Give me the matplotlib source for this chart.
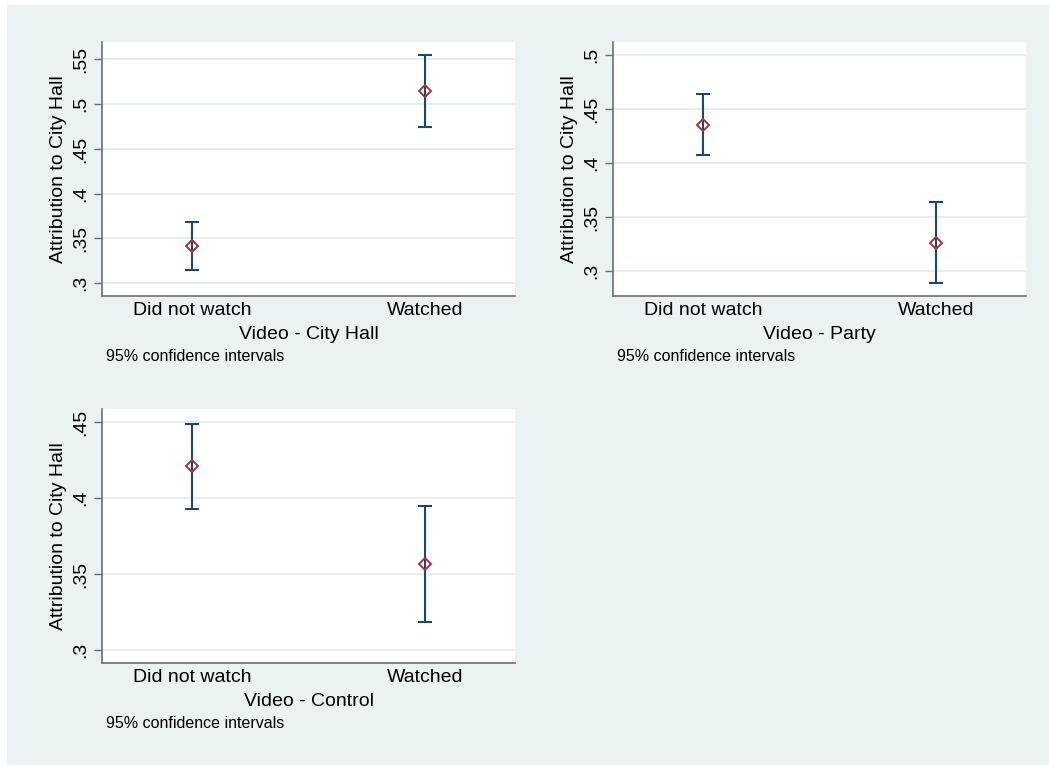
import numpy as np
import matplotlib
matplotlib.use("Agg")
import matplotlib.pyplot as plt
from matplotlib.patches import Rectangle

plt.rcParams['font.family'] = ['Liberation Sans', 'DejaVu Sans']

categories = ["Did not watch", "Watched"]
panel_xlabels = ["Video - City Hall", "Video - Party", "Video - Control"]
ylabel = "Attribution to City Hall"
note = "95% confidence intervals"

# means and 95% CI bounds, per panel (did not watch, watched)
means = [[0.3413, 0.5146], [0.4355, 0.3264], [0.4208, 0.3566]]
ci_low = [[0.3148, 0.4748], [0.4075, 0.2889], [0.3930, 0.3182]]
ci_high = [[0.3680, 0.5551], [0.4639, 0.3640], [0.4489, 0.3949]]

yticks = [[0.3, 0.35, 0.4, 0.45, 0.5, 0.55],
          [0.3, 0.35, 0.4, 0.45, 0.5],
          [0.3, 0.35, 0.4, 0.45]]
ytick_labels = [[".3", ".35", ".4", ".45", ".5", ".55"],
                [".3", ".35", ".4", ".45", ".5"],
                [".3", ".35", ".4", ".45"]]
ylims = [(0.2858, 0.5693), (0.2772, 0.5120), (0.2914, 0.4586)]

W, H = 1049, 767
fig = plt.figure(figsize=(W / 100, H / 100), dpi=100)
fig.patch.set_facecolor("white")
fig.patches.append(Rectangle((7 / W, 2 / H), (W - 7) / W, (H - 7) / H,
                             transform=fig.transFigure, facecolor="#eaf2f3",
                             edgecolor="none", zorder=-10))

# axes boxes in pixels: left, top, right, bottom
boxes = [(102, 42, 515, 296), (613, 42, 1026, 296), (102, 409, 515, 663)]

bar_col = "#1a476f"
mk_col = "#a0353d"
spine_col = "#6e6e6e"

for i, (l, t, r, b) in enumerate(boxes):
    ax = fig.add_axes([l / W, 1 - b / H, (r - l) / W, (b - t) / H])
    ax.set_facecolor("white")
    x = np.arange(len(categories))
    m = np.array(means[i])
    lo = m - np.array(ci_low[i])
    hi = np.array(ci_high[i]) - m
    ax.errorbar(x, m, yerr=[lo, hi], fmt="none", ecolor=bar_col,
                elinewidth=1.5, capsize=5, capthick=1.5, zorder=3)
    ax.plot(x, m, linestyle="none", marker="D", markersize=6,
            markerfacecolor="none", markeredgecolor=mk_col,
            markeredgewidth=1.4, zorder=4)
    ax.set_xlim(-0.388, 1.387)
    ax.set_ylim(*ylims[i])
    ax.set_yticks(yticks[i])
    ax.set_yticklabels(ytick_labels[i], rotation=90, va="center", fontsize=14)
    ax.set_xticks(x)
    ax.set_xticklabels(categories, fontsize=14)
    ax.tick_params(axis="x", length=0, pad=4)
    ax.tick_params(axis="y", length=6, width=1, color=spine_col, pad=3)
    ax.grid(axis="y", color="#e6eef0", linewidth=1.5)
    ax.set_axisbelow(True)
    for s in ["top", "right"]:
        ax.spines[s].set_visible(False)
    for s in ["left", "bottom"]:
        ax.spines[s].set_color(spine_col)
        ax.spines[s].set_linewidth(1.2)
    ax.set_xlabel(panel_xlabels[i], fontsize=14, labelpad=5)
    ax.set_ylabel(ylabel, fontsize=14, labelpad=4)
    fig.text((l + 4) / W, 1 - (b + 61) / H, note, fontsize=11.5,
             ha="left", va="center")

fig.savefig("out.png", dpi=100, facecolor=fig.get_facecolor())
